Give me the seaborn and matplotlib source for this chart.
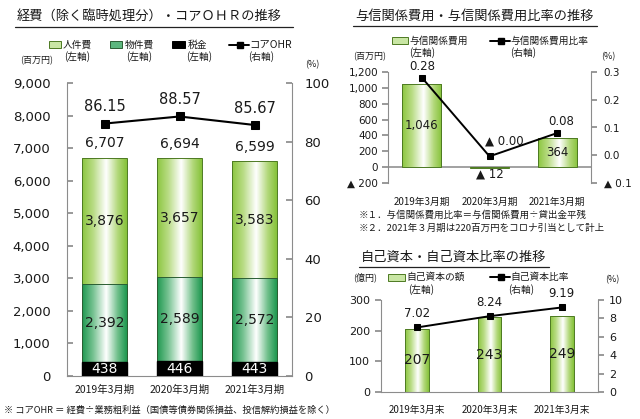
import numpy as np
import matplotlib
matplotlib.use('Agg')
import matplotlib.pyplot as plt
import seaborn as sns
from matplotlib.colors import LinearSegmentedColormap
from matplotlib.lines import Line2D
from matplotlib.patches import Rectangle
from matplotlib.ticker import FuncFormatter

# データ（左：経費・コアOHR）
periods = ['2019年3月期', '2020年3月期', '2021年3月期']
personnel = [3876, 3657, 3583]
property_cost = [2392, 2589, 2572]
taxes = [438, 446, 443]
expense_total = [6707, 6694, 6599]
core_ohr = [86.15, 88.57, 85.67]

# データ（右上：与信関係費用）
credit_cost = [1046, -12, 364]
credit_ratio = [0.28, -0.004, 0.08]

# データ（右下：自己資本）
capital_periods = ['2019年3月末', '2020年3月末', '2021年3月末']
capital = [207, 243, 249]
capital_ratio = [7.02, 8.24, 9.19]

sns.set_theme(style='white')
plt.rcParams['font.family'] = ['DejaVu Sans', 'Noto Sans CJK JP']
JP = ['Noto Sans CJK JP', 'DejaVu Sans']
TXT = '#1a1a1a'
SPINE = '#8c8c8c'

W, H = 640, 419
fig = plt.figure(figsize=(6.4, 4.19), dpi=100)


def fx(px):
    return px / W


def fy(py):
    return 1 - py / H


def axes_px(x0, y0, x1, y1):
    return fig.add_axes([fx(x0), fy(y1), (x1 - x0) / W, (y1 - y0) / H])


light_cmap = LinearSegmentedColormap.from_list(
    'light', [(0, '#8cc640'), (0.25, '#b9dc85'), (0.54, '#ffffff'), (0.8, '#b2d87a'), (1, '#86c23a')])
dark_cmap = LinearSegmentedColormap.from_list(
    'dark', [(0, '#1f9850'), (0.25, '#78c393'), (0.54, '#ffffff'), (0.8, '#6fbf8a'), (1, '#1f9850')])


def gradient_bars(ax, patches, cmap, edge, z):
    grad = np.linspace(0, 1, 120).reshape(1, -1)
    for p in patches:
        x0, y0, w, h = p.get_x(), p.get_y(), p.get_width(), p.get_height()
        p.set_facecolor('none')
        p.set_edgecolor(edge)
        p.set_linewidth(0.7)
        p.set_zorder(z + 0.5)
        im = ax.imshow(grad, cmap=cmap, extent=[x0, x0 + w, y0, y0 + h],
                       aspect='auto', interpolation='bilinear', zorder=z)
        im.set_clip_path(p)


def style_axes(ax, ax2, bottom=True):
    for a in (ax, ax2):
        a.spines['top'].set_visible(False)
        a.set_xlabel('')
        a.set_ylabel('')
        a.grid(False)
    ax.spines['right'].set_visible(False)
    ax2.spines['left'].set_visible(False)
    ax2.spines['bottom'].set_visible(False)
    ax.spines['bottom'].set_visible(bottom)
    for s in ('left', 'bottom'):
        ax.spines[s].set_color(SPINE)
        ax.spines[s].set_linewidth(0.8)
    ax2.spines['right'].set_color(SPINE)
    ax2.spines['right'].set_linewidth(0.8)


def title(x0, x1, y, s):
    fig.text(fx(x0 + 2), fy(y), s, ha='left', va='center', fontsize=9.5, family=JP, color=TXT)
    fig.add_artist(Line2D([fx(x0), fx(x1)], [fy(y + 10)] * 2, color='#222222', lw=0.9))


def ftext(x, y, s, size=7, ha='left'):
    fig.text(fx(x), fy(y), s, ha=ha, va='center', fontsize=size, family=JP, color=TXT)


def leg_patch(x0, x1, y, face, edge):
    fig.add_artist(Rectangle((fx(x0), fy(y + 3.5)), (x1 - x0) / W, 7 / H,
                             transform=fig.transFigure, facecolor=face, edgecolor=edge, lw=0.7))


def leg_line(x0, x1, y):
    fig.add_artist(Line2D([fx(x0), fx(x1)], [fy(y)] * 2, color='black', lw=1.4))
    fig.add_artist(Line2D([fx((x0 + x1) / 2 + 1)], [fy(y)], color='black', marker='s', markersize=4.5))


def neg_fmt(fmt):
    def f(v, _):
        if v < -1e-9:
            return '▲ ' + format(abs(v), fmt)
        return format(abs(v), fmt)
    return FuncFormatter(f)


# ---------------- 左：経費・コアOHR ----------------
ax = axes_px(67, 83, 292, 376)
mid_stack = [t + p for t, p in zip(taxes, property_cost)]
top_stack = [m + p for m, p in zip(mid_stack, personnel)]

sns.barplot(x=periods, y=top_stack, ax=ax, color='#8cc640', width=0.6, saturation=1, errorbar=None)
p_top = list(ax.patches)
sns.barplot(x=periods, y=mid_stack, ax=ax, color='#1f9850', width=0.6, saturation=1, errorbar=None)
p_mid = list(ax.patches)[3:6]
sns.barplot(x=periods, y=taxes, ax=ax, color='black', width=0.6, saturation=1, errorbar=None)
p_tax = list(ax.patches)[6:9]
gradient_bars(ax, p_top, light_cmap, '#4d7a22', 2)
gradient_bars(ax, p_mid, dark_cmap, '#2b5e33', 3)
for p in p_tax:
    p.set_zorder(4)
    p.set_edgecolor('black')

for i in range(3):
    ax.text(i, mid_stack[i] + personnel[i] / 2, f'{personnel[i]:,}', ha='center', va='center',
            fontsize=10, color=TXT, zorder=6)
    ax.text(i, taxes[i] + property_cost[i] / 2, f'{property_cost[i]:,}', ha='center', va='center',
            fontsize=10, color=TXT, zorder=6)
    ax.text(i, taxes[i] / 2, f'{taxes[i]:,}', ha='center', va='center', fontsize=10,
            color='white', zorder=6)
    ax.annotate(f'{expense_total[i]:,}', (i, top_stack[i]), xytext=(0, 10.5), textcoords='offset points',
                ha='center', va='center', fontsize=10, color=TXT)

ax.set_ylim(0, 9000)
ax.set_yticks(range(0, 9001, 1000))
ax.yaxis.set_major_formatter(FuncFormatter(lambda v, _: f'{v:,.0f}'))
ax.tick_params(axis='y', direction='in', length=4, color=SPINE, pad=12, labelsize=9.5, labelcolor=TXT, left=True)
ax.tick_params(axis='x', length=0, pad=6, labelsize=7.5, labelcolor=TXT)
for lbl in ax.get_xticklabels():
    lbl.set_family(JP)

ax2 = ax.twinx()
sns.lineplot(x=np.arange(3), y=core_ohr, ax=ax2, color='black', marker='s', markersize=5.5,
             markeredgecolor='black', linewidth=1.5)
for i, v in enumerate(core_ohr):
    ax2.annotate(f'{v:.2f}', (i, v), xytext=(0, 12), textcoords='offset points',
                 ha='center', va='center', fontsize=10.5, color=TXT)
ax2.set_ylim(0, 100)
ax2.set_yticks(range(0, 101, 20))
ax2.tick_params(axis='y', direction='in', length=4, color=SPINE, pad=9, labelsize=9.5, labelcolor=TXT, right=True)
style_axes(ax, ax2)
ax.set_xlim(-0.5, 2.5)

title(15, 293, 17, '経費（除く臨時処理分）・コアＯＨＲの推移')
leg_patch(49, 61, 45, '#c9e6a4', '#4d7a22')
ftext(63, 45, '人件費')
ftext(64, 57, '(左軸)')
leg_patch(110, 122, 45, '#5cb77e', '#2b5e33')
ftext(125, 45, '物件費')
ftext(126, 57, '(左軸)')
leg_patch(172, 185, 45, 'black', 'black')
ftext(188, 45, '税金')
ftext(186, 57, '(左軸)')
leg_line(229, 249, 45)
ftext(249, 45, 'コアOHR', size=7.5)
ftext(248, 57, '(右軸)')
ftext(20, 61, '(百万円)', size=6.5)
ftext(305, 65, '(%)', size=6.5)
fig.text(fx(4), fy(410), '※ コアOHR ＝ 経費÷業務粗利益（国債等債券関係損益、投信解約損益を除く）',
         ha='left', va='center', fontsize=6.7, family=JP, color=TXT)

# ---------------- 右上：与信関係費用 ----------------
bx = axes_px(388, 72, 591, 183)
sns.barplot(x=periods, y=credit_cost, ax=bx, color='#8cc640', width=0.58, saturation=1, errorbar=None)
gradient_bars(bx, list(bx.patches), light_cmap, '#4d7a22', 2)
bx.axhline(0, color='#9a9a9a', lw=1.3, zorder=1.5)
for i, v in enumerate(credit_cost):
    if v > 0:
        bx.text(i, v / 2, f'{v:,}', ha='center', va='center', fontsize=8.5, color=TXT, zorder=6)
    else:
        bx.annotate(f'▲ {abs(v):,}', (i, v), xytext=(0, -4.5), textcoords='offset points',
                    ha='center', va='center', fontsize=8.5, color=TXT)
bx.set_ylim(-200, 1200)
bx.set_yticks(range(-200, 1201, 200))
bx.yaxis.set_major_formatter(neg_fmt(',.0f'))
bx.tick_params(axis='y', direction='out', length=4, color=SPINE, pad=3, labelsize=7.5, labelcolor=TXT, left=True)
bx.tick_params(axis='x', length=0, pad=10, labelsize=7, labelcolor=TXT)
for lbl in bx.get_xticklabels():
    lbl.set_family(JP)

bx2 = bx.twinx()
sns.lineplot(x=np.arange(3), y=credit_ratio, ax=bx2, color='black', marker='s', markersize=5,
             markeredgecolor='black', linewidth=1.4)
ratio_offsets = [(0, 8), (11, 11), (3, 8.5)]
for i, v in enumerate(credit_ratio):
    s = f'▲ {abs(v):.2f}' if v < 0 else f'{v:.2f}'
    bx2.annotate(s, (i, v), xytext=ratio_offsets[i], textcoords='offset points',
                 ha='center', va='center', fontsize=8.5, color=TXT)
bx2.set_ylim(-0.1, 0.3)
bx2.set_yticks([-0.1, 0.0, 0.1, 0.2, 0.3])
bx2.yaxis.set_major_formatter(neg_fmt('.1f'))
bx2.tick_params(axis='y', direction='out', length=4, color=SPINE, pad=5, labelsize=7.5, labelcolor=TXT, right=True)
style_axes(bx, bx2, bottom=False)
bx.set_xlim(-0.5, 2.5)

title(353, 597, 16, '与信関係費用・与信関係費用比率の推移')
leg_patch(392, 408, 41, '#c9e6a4', '#4d7a22')
ftext(409, 41, '与信関係費用')
ftext(409, 53, '(左軸)')
leg_line(490, 510, 41)
ftext(510, 41, '与信関係費用比率')
ftext(510, 53, '(右軸)')
ftext(353, 57, '(百万円)', size=6.5)
ftext(601, 57, '(%)', size=6.5)
ftext(359, 215, '※１．与信関係費用比率＝与信関係費用÷貸出金平残', size=6.8)
ftext(359, 228, '※２．2021年３月期は220百万円をコロナ引当として計上', size=6.8)

# ---------------- 右下：自己資本 ----------------
cx = axes_px(381, 300, 598, 392)
sns.barplot(x=capital_periods, y=capital, ax=cx, color='#8cc640', width=0.33, saturation=1, errorbar=None)
gradient_bars(cx, list(cx.patches), light_cmap, '#4d7a22', 2)
for i, v in enumerate(capital):
    cx.text(i, v / 2, f'{v}', ha='center', va='center', fontsize=10, color=TXT, zorder=6)
cx.set_ylim(0, 300)
cx.set_yticks(range(0, 301, 100))
cx.tick_params(axis='y', direction='out', length=4, color=SPINE, pad=4, labelsize=8, labelcolor=TXT, left=True)
cx.tick_params(axis='x', length=0, pad=9, labelsize=7, labelcolor=TXT)
for lbl in cx.get_xticklabels():
    lbl.set_family(JP)

cx2 = cx.twinx()
sns.lineplot(x=np.arange(3), y=capital_ratio, ax=cx2, color='black', marker='s', markersize=5,
             markeredgecolor='black', linewidth=1.4)
for i, v in enumerate(capital_ratio):
    cx2.annotate(f'{v:.2f}', (i, v), xytext=(0, 10), textcoords='offset points',
                 ha='center', va='center', fontsize=8.5, color=TXT)
cx2.set_ylim(0, 10)
cx2.set_yticks(range(0, 11, 2))
cx2.tick_params(axis='y', direction='out', length=4, color=SPINE, pad=4, labelsize=8, labelcolor=TXT, right=True)
style_axes(cx, cx2)
cx.set_xlim(-0.5, 2.5)

title(359, 549, 257, '自己資本・自己資本比率の推移')
ftext(353, 277, '(億円)', size=6.5)
leg_patch(388, 405, 277, '#c9e6a4', '#4d7a22')
ftext(406, 277, '自己資本の額')
ftext(408, 290, '(左軸)')
leg_line(490, 510, 277)
ftext(510, 277, '自己資本比率')
ftext(508, 290, '(右軸)')
ftext(605, 280, '(%)', size=6.5)

fig.savefig('out.png', dpi=100)
